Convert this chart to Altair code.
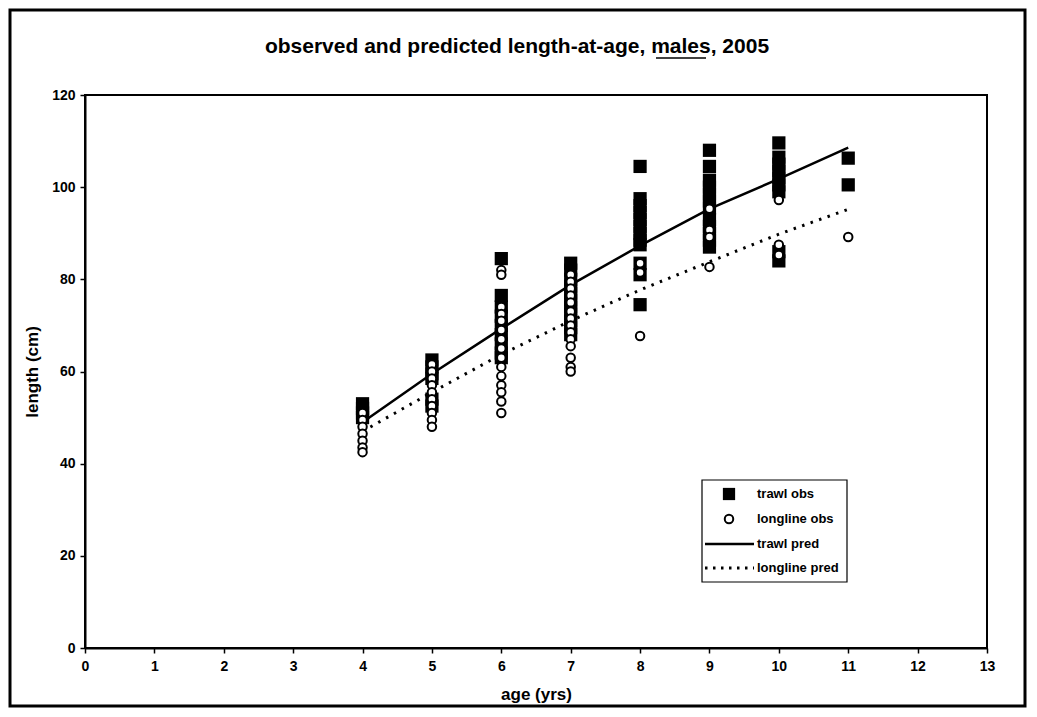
import altair as alt
import pandas as pd

# ---- data ----
ages = [4, 5, 6, 7, 8, 9, 10, 11]

sq_4 = [53, 52, 51, 50]
sq_5 = [62.5, 61, 59.5, 58.5, 54, 52.5]
sq_6 = [84.5, 76.5, 74, 72, 70, 68, 66, 64, 63]
sq_7 = [83.5, 82, 80, 78.5, 77, 75.5, 74, 72.5, 71, 69.5, 68]
sq_8 = [104.5, 97.5, 96, 94.5, 93, 91.5, 90, 88.5, 87.5, 83.5, 81, 74.5]
sq_9 = [108, 104.5, 101.5, 100, 98.5, 97, 95.5, 93, 91.5, 90, 88.5, 87]
sq_10 = [109.6, 106.5, 105, 103.5, 102, 100.5, 99, 86, 84]
sq_11 = [106.3, 100.5]

ci_4 = [51, 49.5, 48, 46.5, 45, 43.5, 42.5]
ci_5 = [61.5, 60, 58.5, 57, 55.5, 54, 52.5, 51, 49.5, 48]
ci_6 = [82, 81, 74, 72.5, 71, 69, 67, 65, 63, 61, 59, 57, 55.5, 53.5, 51]
ci_7 = [81, 79.5, 78, 76.5, 75, 73, 71.5, 70, 68.5, 67, 65.5, 63, 61, 60]
ci_8 = [83.5, 81.5, 67.7]
ci_9 = [95.3, 90.7, 89.2, 82.7]
ci_10 = [97.2, 87.5, 85.3]
ci_11 = [89.2]

pred_solid = [49, 59.5, 69.3, 78.8, 87.3, 95.3, 101.8, 108.6]
pred_dotted = [47, 55.5, 63.7, 71, 77.7, 83.8, 89.8, 95.2]

legend_labels = ["trawl obs", "longline obs", "trawl pred", "longline pred"]
title_text = "observed and predicted length-at-age, males, 2005"
x_ticks = list(range(0, 14))
y_ticks = [0, 20, 40, 60, 80, 100, 120]

# ---- tables ----
sq_groups = [sq_4, sq_5, sq_6, sq_7, sq_8, sq_9, sq_10, sq_11]
ci_groups = [ci_4, ci_5, ci_6, ci_7, ci_8, ci_9, ci_10, ci_11]
sq_df = pd.DataFrame([{"age": a, "len": v} for a, g in zip(ages, sq_groups) for v in g])
ci_df = pd.DataFrame([{"age": a, "len": v} for a, g in zip(ages, ci_groups) for v in g])
solid_df = pd.DataFrame({"age": ages, "len": pred_solid})
dot_df = pd.DataFrame({"age": ages, "len": pred_dotted})

FONT = "Liberation Sans"
W, H = 902, 553

xs = alt.Scale(domain=[0, 13], nice=False, zero=False)
ys = alt.Scale(domain=[0, 120], nice=False)

X = alt.X("age:Q", scale=xs, axis=alt.Axis(
    values=x_ticks, title="age (yrs)", grid=False, tickSize=5, labelPadding=6,
    labelFont=FONT, labelFontSize=14, labelFontWeight="bold", labelColor="black",
    titleFont=FONT, titleFontSize=17, titleFontWeight="bold", titleColor="black",
    titleY=46, titleBaseline="middle", domainColor="black", domainWidth=2,
    tickColor="black", tickWidth=1.5, labelFlush=False))
Y = alt.Y("len:Q", scale=ys, axis=alt.Axis(
    values=y_ticks, title="length (cm)", grid=False, tickSize=5, labelPadding=5,
    labelFont=FONT, labelFontSize=14, labelFontWeight="bold", labelColor="black",
    titleFont=FONT, titleFontSize=17, titleFontWeight="bold", titleColor="black",
    titleX=-53, titleBaseline="middle", domainColor="black", domainWidth=2,
    tickColor="black", tickWidth=1.5, labelFlush=False))

squares = alt.Chart(sq_df).mark_point(shape="square", filled=True, color="black",
                                      size=175, opacity=1).encode(x=X, y=Y)
solid = alt.Chart(solid_df).mark_line(color="black", strokeWidth=2.5).encode(x=X, y=Y)
dotted = alt.Chart(dot_df).mark_line(color="black", strokeWidth=3,
                                     strokeDash=[2.5, 6.5]).encode(x=X, y=Y)
circles = alt.Chart(ci_df).mark_point(shape="circle", filled=False, fill="white",
                                      fillOpacity=1, stroke="black", strokeWidth=2,
                                      size=72, opacity=1).encode(x=X, y=Y)

# ---- manual legend (pixel positions relative to plot area) ----
one = pd.DataFrame({"k": [0]})
LX0 = 702 - 85
LY0 = 480 - 95
leg_box = alt.Chart(one).mark_rect(fill="white", stroke="black", strokeWidth=1.2).encode(
    x=alt.value(LX0), x2=alt.value(LX0 + 145), y=alt.value(LY0), y2=alt.value(LY0 + 102))
row_y = [LY0 + 14, LY0 + 39, LY0 + 64, LY0 + 88]
sym_x = 729 - 85
leg_sq = alt.Chart(one).mark_point(shape="square", filled=True, color="black", size=150,
                                   opacity=1).encode(x=alt.value(sym_x), y=alt.value(row_y[0]))
leg_ci = alt.Chart(one).mark_point(shape="circle", filled=False, fill="white", fillOpacity=1,
                                   stroke="black", strokeWidth=2, size=72,
                                   opacity=1).encode(x=alt.value(sym_x), y=alt.value(row_y[1]))
leg_l1 = alt.Chart(one).mark_rule(color="black", strokeWidth=2.5).encode(
    x=alt.value(705 - 85), x2=alt.value(754 - 85), y=alt.value(row_y[2]))
leg_l2 = alt.Chart(one).mark_rule(color="black", strokeWidth=3, strokeDash=[2.5, 5.5]).encode(
    x=alt.value(705 - 85), x2=alt.value(754 - 85), y=alt.value(row_y[3]))
leg_text = [
    alt.Chart(pd.DataFrame({"t": [lab]})).mark_text(
        align="left", baseline="middle", font=FONT, fontSize=13, fontWeight="bold",
        color="black").encode(text="t:N", x=alt.value(757 - 85), y=alt.value(yy))
    for lab, yy in zip(legend_labels, row_y)
]

# ---- title and frame ----
title = alt.Chart(pd.DataFrame({"t": [title_text]})).mark_text(
    align="center", baseline="middle", font=FONT, fontSize=21, fontWeight="bold",
    color="black").encode(text="t:N", x=alt.value(517 - 85), y=alt.value(47 - 95))
underline = alt.Chart(one).mark_rule(color="black", strokeWidth=1.5).encode(
    x=alt.value(656 - 85), x2=alt.value(706 - 85), y=alt.value(58 - 95))
frame = alt.Chart(one).mark_rect(fill=None, stroke="black", strokeWidth=3).encode(
    x=alt.value(-75), x2=alt.value(940), y=alt.value(-85), y2=alt.value(611))

chart = alt.layer(
    frame, squares, solid, dotted, circles, leg_box, leg_sq, leg_ci, leg_l1, leg_l2,
    *leg_text, title, underline
).properties(
    width=W, height=H,
    autosize=alt.AutoSizeParams(type="none"),
    padding={"left": 77, "top": 87, "right": 42, "bottom": 61},
    background="white",
).configure_view(stroke="black", strokeWidth=2)

chart.save("out.html", embed_options={"renderer": "svg", "actions": False})
